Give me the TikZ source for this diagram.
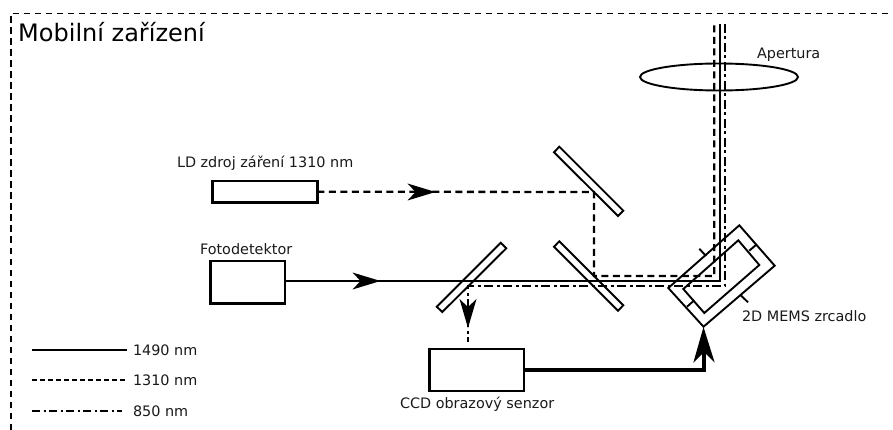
\documentclass[tikz,border=0pt]{standalone}
\usepackage{fontspec}
\setmainfont{DejaVu Sans}
\usetikzlibrary{arrows.meta,calc,shapes.geometric}
\tikzset{
  x=1pt,y=-1pt,
  lab/.style={inner sep=0pt,outer sep=0pt,anchor=base west,font=\fontsize{14.4}{17}\selectfont,text=black!90},
  box/.style={draw,line width=2.4pt,inner sep=0pt,outer sep=0pt,minimum width=#1},
  part/.style={draw,line width=1.9pt,line join=miter},
  mirror/.style={draw,line width=1.9pt,fill=none},
  frame/.style={line width=1.7pt,dash pattern=on 6.5pt off 4.5pt},
  beamS/.style={line width=2.3pt},
  beamD/.style={line width=2.3pt,dash pattern=on 7pt off 4.5pt},
  beamC/.style={line width=2.3pt,dash pattern=on 9pt off 3.5pt on 3pt off 3.5pt},
  thickbeam/.style={line width=4.4pt},
  legendD/.style={line width=2.2pt,dash pattern=on 5pt off 3pt},
  legendC/.style={line width=2.2pt,dash pattern=on 8pt off 3.5pt on 2pt off 3.5pt},
}
\begin{document}
\begin{tikzpicture}
\useasboundingbox (0,0) rectangle (893,430);
% device frame
\coordinate (fa) at (11,430);
\coordinate (fb) at (11,13.5);
\coordinate (fc) at (893,13.5);
\draw[frame] (fa) -- (fb) -- (fc);
\node[inner sep=0pt,anchor=base west,font=\fontsize{24}{28}\selectfont] (title) at (18,42) {Mobilní zařízení};
% boxes
\node[box=105pt,minimum height=21.3pt] (ld) at (264.8,191.7) {};
\node[box=74.4pt,minimum height=42.6pt] (fd) at (247.5,282) {};
\node[box=94.3pt,minimum height=42pt] (ccd) at (476.8,369.7) {};
\node[lab] (ldl) at (177,168) {LD zdroj záření 1310 nm};
\node[lab] (fdl) at (200,254) {Fotodetektor};
\node[lab] (ccdl) at (400,408) {CCD obrazový senzor};
\node[lab] (apl) at (757,59) {Apertura};
\node[lab] (memsl) at (742,321) {2D MEMS zrcadlo};
% aperture
\node[draw,line width=1.9pt,ellipse,minimum width=158pt,minimum height=27pt,inner sep=0pt] (ap) at (719,77) {};
% mirrors
\draw[mirror] (554,152.3) -- (559.3,146.7) -- (623.3,210.7) -- (618,216) -- cycle;
\draw[mirror] (554,246.7) -- (559.3,241.3) -- (623.3,305.3) -- (618,310.7) -- cycle;
\draw[mirror] (436.7,306.7) -- (500.7,242.7) -- (506.3,248.3) -- (442.3,312) -- cycle;
% MEMS mirror
\coordinate (mt) at (739.3,225.3);
\coordinate (mr) at (774.7,265.7);
\coordinate (mb) at (703.5,326.7);
\coordinate (ml) at (668.3,288);
\draw[part] (mt) -- (mr) -- (mb) -- (ml) -- cycle;
\draw[part] (738.3,240.3) -- (759.3,265) -- (704.3,313) -- (683.3,289) -- cycle;
\draw[part] (749.3,250.7) -- (756.7,244.3);
\draw[part] (687,306.7) -- (694.3,300.3);
\draw[part] (699.3,248.7) -- (706,256);
\draw[part] (740.7,295.3) -- (748,302.3);
% beam waypoints
\coordinate (sc) at (720,281);
\coordinate (st) at (720,24);
\coordinate (d1) at (594,192);
\coordinate (d2) at (594,276);
\coordinate (d3) at (714.3,276);
\coordinate (d4) at (714.3,24);
\coordinate (c0) at (724.7,24);
\coordinate (c1) at (724.7,286.3);
\coordinate (c2) at (468,286.3);
\coordinate (ca) at (468,342);
\coordinate (thc) at (704,369.7);
% beams
\draw[beamS] (fd.east |- sc) -- (sc) -- (st);
\fill (380.5,281) -- (352.5,289.5) -- (360.5,281) -- (352.5,272.5) -- cycle;
\draw[beamD] (ld.east) -- (d1) -- (d2) -- (d3) -- (d4);
\fill (435.5,192) -- (407.5,200.5) -- (415.5,192) -- (407.5,183.5) -- cycle;
\draw[beamC] (c0) -- (c1) -- (c2) -- (ca);
\fill (468,328) -- (476.5,299) -- (468,307) -- (459.5,299) -- cycle;
\draw[thickbeam] (ccd.east |- thc) -- (thc) -- (704,345);
\fill (mb) ++(0,0.3) -- (714.7,362.7) -- (704,352) -- (693.3,362.7) -- cycle;
% legend
\coordinate (l1a) at (32,350); \coordinate (l1b) at (127,350);
\coordinate (l2a) at (32,380); \coordinate (l2b) at (127,380);
\coordinate (l3a) at (32,411); \coordinate (l3b) at (122,411);
\draw[beamS] (l1a) -- (l1b);
\draw[legendD] (l2a) -- (l2b);
\draw[legendC] (l3a) -- (l3b);
\node[lab] (t1) at (133,355) {1490 nm};
\node[lab] (t2) at (133,385.5) {1310 nm};
\node[lab] (t3) at (133,416.5) {850 nm};
\end{tikzpicture}
\end{document}
